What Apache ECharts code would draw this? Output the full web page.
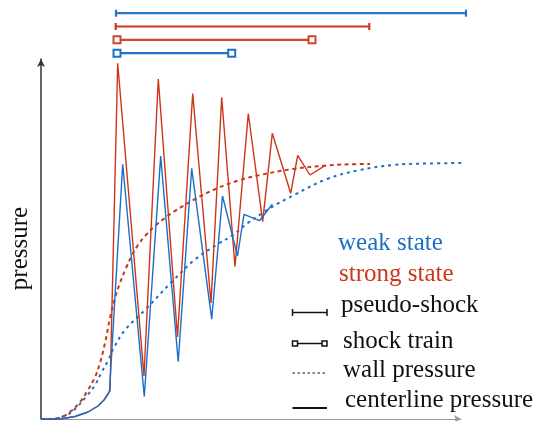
<!DOCTYPE html>
<html>
<head>
<meta charset="utf-8">
<script src="https://cdn.jsdelivr.net/npm/echarts@6/dist/echarts.min.js"></script>
<style>
  html, body { margin: 0; padding: 0; background: #fff; }
  #chart { width: 535px; height: 421px; }
</style>
</head>
<body>
<div id="chart"></div>
<script>
// Schematic of the pressure rise through a shock train (weak vs. strong state).
// x: streamwise distance, y: pressure (arbitrary units).

const strongCenterline = [
  [0, 0], [19, 0], [34, 2.5], [47, 7], [57, 13], [63, 19], [67, 25], [69, 28],
  [76.7, 355.7], [103, 43], [117.3, 340], [136.5, 82], [151.7, 325.5], [170, 116],
  [180.7, 321.7], [194, 152.3], [207.3, 305.5], [221.7, 197.3], [231.3, 285.7],
  [249.7, 225.7], [256.7, 263.7], [269, 244], [284, 253.3]
];
const weakCenterline = [
  [0, 0], [19, 0], [34, 2.5], [47, 7], [57, 13], [63, 19], [67, 25], [68.5, 28],
  [81.7, 254.7], [103.3, 22.5], [119.7, 263], [137.2, 57.3], [150.7, 250.7],
  [170.7, 99.8], [181.5, 223], [196.5, 163], [203, 204.7], [218.5, 198.3], [231.3, 214.7]
];
const strongWall = [
  [0, 0], [9, 0], [20.7, 2], [29, 7], [39, 17], [45.7, 27], [54, 42], [59, 56],
  [64, 76], [69, 101], [74, 121], [79, 136], [85, 151], [90.7, 163], [97, 174],
  [104, 183], [114, 193], [124, 201], [132.3, 207], [152.3, 219], [175.7, 230.5],
  [199, 239], [219, 244], [252, 250], [286, 253.5], [309, 254.7], [329, 255]
];
const weakWall = [
  [0, 0], [9, 0], [25.7, 4], [35, 11], [45.7, 23], [54, 34], [60.7, 47], [67.3, 59],
  [72.3, 70], [84, 89], [104, 109], [130.7, 137], [154, 159.5], [177, 175], [192, 184],
  [206, 195.5], [220, 205], [229, 211], [254, 224.5], [286, 240], [319, 249],
  [352, 254], [386, 255.5], [423, 256]
];

// Extent bars drawn above the plot
const barRows  = ['weak pseudo-shock', 'strong pseudo-shock', 'strong shock train', 'weak shock train'];
const barStart = [75, 74.7, 76, 76];
const barEnd   = [425, 328.3, 271, 190.7];

const BLUE = '#1b6fc6';
const RED = '#cc3519';
const SERIF = '"Liberation Serif", "Times New Roman", serif';

const barColors = ['#2577c9', '#cf3820', '#d2462a', '#1e72c6'];
const barIsShockTrain = [false, false, true, true];

const barSeries = barRows.map((row, i) => ({
  type: 'line',
  xAxisIndex: 1,
  yAxisIndex: 1,
  clip: false,
  silent: true,
  data: [[barStart[i], row], [barEnd[i], row]],
  lineStyle: { color: barColors[i], width: 2.2 },
  symbol: 'rect',
  symbolSize: barIsShockTrain[i] ? 7 : [2.2, 7],
  itemStyle: barIsShockTrain[i]
    ? { color: '#fff', borderColor: barColors[i], borderWidth: 2 }
    : { color: barColors[i], borderWidth: 0 },
  z: 3
}));

function textEl(str, x, y, color) {
  return {
    type: 'text', x: x, y: y, silent: true,
    style: {
      text: str, fill: color, font: '25px ' + SERIF,
      align: 'left', verticalAlign: 'middle',
      textAlign: 'left', textVerticalAlign: 'middle'
    }
  };
}

const chart = echarts.init(document.getElementById('chart'), null, { renderer: 'canvas' });
chart.setOption({
  animation: false,
  backgroundColor: '#fff',
  grid: [
    { left: 41, top: 59, width: 420, height: 360 },
    { left: 41, top: 6.5, width: 420, height: 53.3 }
  ],
  xAxis: [
    {
      type: 'value', gridIndex: 0, min: 0, max: 420,
      axisLine: { show: true, lineStyle: { color: '#9a9a9a', width: 1.2 },
                  symbol: ['none', 'arrow'], symbolSize: [6, 7] },
      axisTick: { show: false }, axisLabel: { show: false }, splitLine: { show: false }
    },
    {
      type: 'value', gridIndex: 1, min: 0, max: 420, show: false
    }
  ],
  yAxis: [
    {
      type: 'value', gridIndex: 0, min: 0, max: 360,
      axisLine: { show: true, lineStyle: { color: '#333', width: 1.5 },
                  symbol: ['none', 'arrow'], symbolSize: [6, 8] },
      axisTick: { show: false }, axisLabel: { show: false }, splitLine: { show: false }
    },
    {
      type: 'category', gridIndex: 1, data: barRows, inverse: true, show: false
    }
  ],
  series: [
    {
      name: 'strong wall', type: 'line', data: strongWall, smooth: 0.4, symbol: 'none',
      clip: false, silent: true,
      lineStyle: { color: RED, width: 2, type: [4, 3.5] }
    },
    {
      name: 'weak wall', type: 'line', data: weakWall, smooth: 0.4, symbol: 'none',
      clip: false, silent: true,
      lineStyle: { color: BLUE, width: 2, type: [3, 4] }
    },
    {
      name: 'strong centerline', type: 'line', data: strongCenterline, symbol: 'none',
      clip: false, silent: true,
      lineStyle: { color: RED, width: 1.4 }
    },
    {
      name: 'weak centerline', type: 'line', data: weakCenterline, symbol: 'none',
      clip: false, silent: true,
      lineStyle: { color: BLUE, width: 1.4 }
    }
  ].concat(barSeries),
  graphic: [
    {
      type: 'text', x: 20, y: 248.5, rotation: Math.PI / 2, silent: true,
      style: {
        text: 'pressure', fill: '#111', font: '25px ' + SERIF,
        align: 'center', verticalAlign: 'middle',
        textAlign: 'center', textVerticalAlign: 'middle'
      }
    },
    textEl('weak state', 338, 243.5, BLUE),
    textEl('strong state', 339, 274.5, RED),
    textEl('pseudo-shock', 341, 305.5, '#111'),
    textEl('shock train', 343, 341.5, '#111'),
    textEl('wall pressure', 343, 370, '#111'),
    textEl('centerline pressure', 345, 400.7, '#111'),

    // legend keys
    { type: 'line', silent: true, shape: { x1: 292.5, y1: 312.5, x2: 327, y2: 312.5 },
      style: { stroke: '#111', lineWidth: 1.5 } },
    { type: 'line', silent: true, shape: { x1: 292.5, y1: 309, x2: 292.5, y2: 316 },
      style: { stroke: '#111', lineWidth: 1.5 } },
    { type: 'line', silent: true, shape: { x1: 327, y1: 309, x2: 327, y2: 316 },
      style: { stroke: '#111', lineWidth: 1.5 } },

    { type: 'line', silent: true, shape: { x1: 297, y1: 343.5, x2: 322, y2: 343.5 },
      style: { stroke: '#111', lineWidth: 1.5 } },
    { type: 'rect', silent: true, shape: { x: 292.5, y: 341, width: 5, height: 5 },
      style: { stroke: '#111', fill: '#fff', lineWidth: 1.5 } },
    { type: 'rect', silent: true, shape: { x: 322, y: 341, width: 5, height: 5 },
      style: { stroke: '#111', fill: '#fff', lineWidth: 1.5 } },

    { type: 'line', silent: true, shape: { x1: 292.5, y1: 373, x2: 327, y2: 373 },
      style: { stroke: '#111', lineWidth: 1.2, lineDash: [2.5, 2.5] } },

    { type: 'line', silent: true, shape: { x1: 292.5, y1: 408, x2: 327, y2: 408 },
      style: { stroke: '#111', lineWidth: 2 } }
  ]
});
</script>
</body>
</html>
